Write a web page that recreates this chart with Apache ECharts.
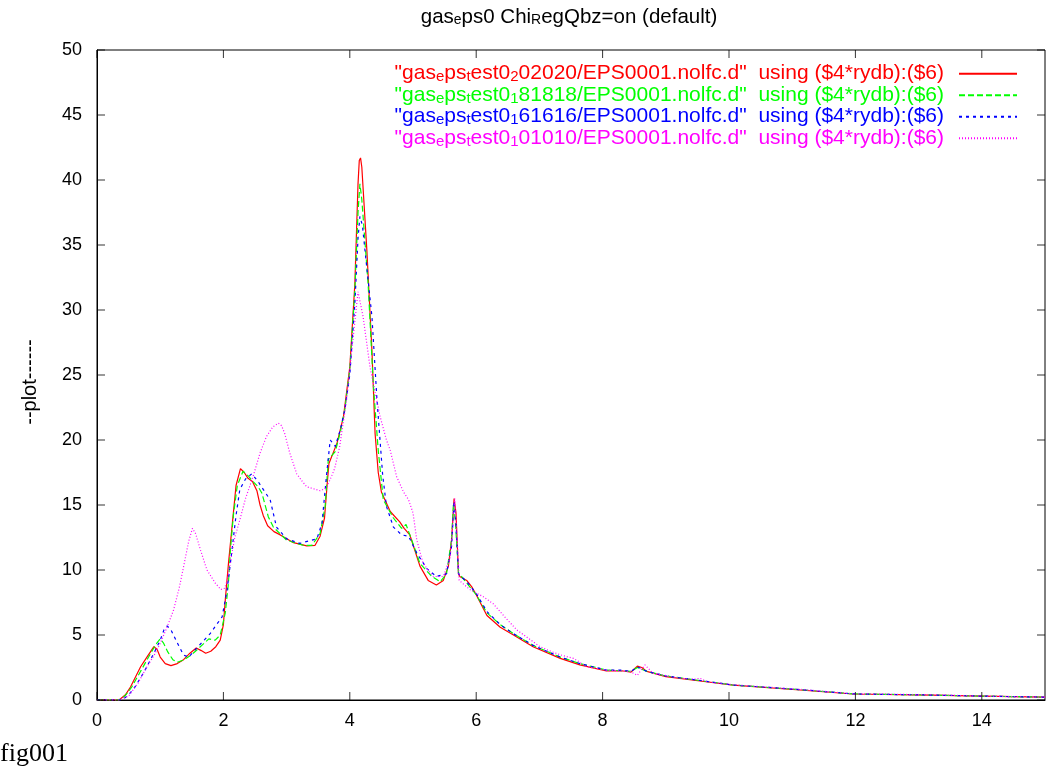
<!DOCTYPE html>
<html>
<head>
<meta charset="utf-8">
<script src="https://cdn.jsdelivr.net/npm/echarts@6/dist/echarts.min.js"></script>
<style>html,body{margin:0;padding:0;background:#fff}#c{width:1047px;height:777px}</style>
</head>
<body>
<div id="c"></div>
<script>
// ---- data ----
const xTicks = [0, 2, 4, 6, 8, 10, 12, 14];
const yTicks = [0, 5, 10, 15, 20, 25, 30, 35, 40, 45, 50];
const xMax = 15, yMax = 50;

const redX = [0,0.35,0.45,0.53,0.69,0.79,0.9,0.95,1.0,1.08,1.17,1.27,1.37,1.47,1.57,1.65,1.72,1.8,1.88,1.95,2.0,2.03,2.08,2.14,2.2,2.27,2.33,2.39,2.46,2.53,2.58,2.63,2.7,2.8,2.9,3.11,3.32,3.45,3.53,3.6,3.64,3.67,3.72,3.8,3.9,4.0,4.08,4.13,4.15,4.17,4.19,4.27,4.35,4.4,4.45,4.5,4.64,4.79,4.86,4.89,4.95,5.03,5.11,5.24,5.37,5.48,5.56,5.61,5.65,5.68,5.72,5.74,5.85,5.93,6.0,6.17,6.38,6.59,6.9,7.33,7.64,8.06,8.3,8.45,8.55,8.62,8.7,9.0,9.54,10.07,11.12,11.96,13.2,14.0,15];
const redY = [0,0,0.4,1.0,2.56,3.3,4.1,3.9,3.3,2.8,2.64,2.8,3.1,3.6,4.0,3.8,3.6,3.75,4.1,4.6,5.8,7.7,10.5,13.5,16.5,17.8,17.5,17.05,16.8,16.1,15.0,14.2,13.4,12.95,12.7,12.1,11.85,11.9,12.6,14.0,16.5,18.2,18.8,19.8,21.8,25.6,32,39.7,41.5,41.7,41.0,34.6,26.9,20.5,17.5,16.0,14.5,13.7,13.2,13.35,12.7,11.5,10.3,9.2,8.85,9.2,10.3,12.3,15.5,14.4,9.7,9.5,9.2,8.7,8.1,6.5,5.6,5.0,4.1,3.2,2.7,2.23,2.25,2.15,2.6,2.5,2.2,1.8,1.46,1.15,0.77,0.46,0.38,0.3,0.22];

const greenX = [0,0.35,0.45,0.55,0.7,0.85,0.95,1.0,1.05,1.12,1.2,1.27,1.38,1.5,1.58,1.68,1.77,1.87,1.95,2.03,2.08,2.11,2.16,2.22,2.31,2.4,2.47,2.55,2.61,2.66,2.71,2.79,3.0,3.26,3.4,3.53,3.61,3.66,3.77,3.85,3.92,4.0,4.08,4.13,4.16,4.19,4.29,4.37,4.45,4.49,4.53,4.69,4.82,4.89,4.98,5.11,5.3,5.43,5.53,5.61,5.64,5.67,5.72,5.85,6.0,6.17,6.38,6.59,6.9,7.33,7.64,8.06,8.3,8.45,8.55,8.7,9.0,9.54,10.07,11.12,11.96,13.2,14.0,15];
const greenY = [0,0,0.35,1.0,2.3,3.6,4.4,4.7,4.4,3.7,3.1,2.9,3.1,3.5,3.85,4.3,4.7,4.6,5.0,6.7,9.0,11.5,14.3,16.5,17.6,17.2,16.8,16.4,15.9,15.0,14.1,13.3,12.3,11.9,11.9,12.8,14.9,18.5,19.1,20.6,22.3,25.4,31.5,37.5,39.7,38.5,32,24.4,19.2,17.3,15.4,14.0,13.2,13.5,12.3,10.5,9.5,9.1,9.7,12.3,15.1,13.8,9.8,9.0,8.1,6.7,5.8,5.1,4.2,3.3,2.8,2.3,2.25,2.2,2.5,2.2,1.85,1.5,1.15,0.8,0.47,0.38,0.3,0.22];

const blueX = [0,0.4,0.5,0.6,0.75,0.9,1.0,1.06,1.11,1.17,1.27,1.37,1.45,1.58,1.79,1.98,2.06,2.13,2.2,2.26,2.35,2.45,2.55,2.63,2.74,2.84,3.0,3.21,3.48,3.56,3.63,3.69,3.77,3.85,3.92,4.0,4.08,4.13,4.16,4.2,4.24,4.35,4.43,4.52,4.58,4.69,4.82,4.93,5.06,5.22,5.37,5.53,5.61,5.65,5.68,5.72,5.85,6.0,6.17,6.38,6.59,6.9,7.33,7.64,8.06,8.3,8.45,8.55,8.7,9.0,9.54,10.07,11.12,11.96,13.2,14.0,15];
const blueY = [0,0,0.4,1.0,2.2,3.6,4.6,5.4,5.7,5.4,4.4,3.46,3.3,4.0,5.1,6.4,8.5,11.3,14.2,16.2,17.0,17.4,16.8,16.2,15.4,13.3,12.4,12.05,12.4,13.6,17.2,20.0,19.5,20.8,22.3,25.0,30.5,35.5,37.2,36.5,34.6,29.5,23.1,17.3,14.9,13.3,12.7,12.6,11.3,10.1,9.5,9.7,11.8,15.3,13.5,9.7,9.1,8.2,6.8,5.8,5.1,4.2,3.3,2.8,2.3,2.3,2.2,2.55,2.2,1.85,1.5,1.15,0.8,0.47,0.38,0.3,0.22];

const pinkX = [0,0.35,0.5,0.65,0.79,0.9,1.0,1.1,1.21,1.3,1.37,1.45,1.51,1.56,1.64,1.74,1.87,1.96,2.02,2.06,2.11,2.18,2.26,2.35,2.47,2.58,2.68,2.78,2.87,2.92,2.97,3.05,3.16,3.25,3.32,3.53,3.63,3.71,3.76,3.84,3.95,4.06,4.13,4.21,4.32,4.48,4.58,4.64,4.74,4.85,4.93,5.0,5.06,5.16,5.32,5.48,5.59,5.66,5.7,5.73,5.9,6.11,6.27,6.45,6.64,7.01,7.2,7.38,7.54,7.75,8.06,8.43,8.55,8.67,8.8,9.2,9.45,9.54,9.65,10.07,11.12,11.96,13.2,14.0,15];
const pinkY = [0,0,0.3,1.3,2.56,3.4,4.36,5.5,6.9,8.6,10.25,12.2,13.2,12.8,11.5,10.0,9.0,8.5,8.6,9.2,10.6,12.5,13.85,15.5,17.2,19.0,20.25,21.0,21.3,21.1,20.5,19.0,17.4,16.8,16.4,16.1,16.3,17.2,17.8,19.5,23.1,28.2,31.4,29.5,25.6,21.8,20.0,19.2,17.2,16.0,15.4,14.4,12.3,10.5,9.5,9.5,11.0,15.5,12.3,9.2,8.5,7.95,7.4,6.4,5.4,4.1,3.7,3.4,3.2,2.56,2.3,2.2,1.9,2.7,2.05,1.7,1.6,1.67,1.4,1.17,0.82,0.48,0.4,0.3,0.22];

const seriesNames = ['s0', 's1', 's2', 's3'];
const seriesColors = ['#ff0000', '#00ff00', '#0000ff', '#ff00ff'];
const seriesDash = ['solid', [6, 3], [3, 4], [1, 2]];
const fileCodes = ['2', '1', '1', '1'];
const fileTails = ['02020', '81818', '61616', '01010'];

function pairs(xs, ys) { return xs.map((x, i) => [x, ys[i]]); }
const seriesData = [pairs(redX, redY), pairs(greenX, greenY), pairs(blueX, blueY), pairs(pinkX, pinkY)];

const FONT = 'Liberation Sans';
const rich = { gap: { width: 10, lineHeight: 21.5 } };
seriesColors.forEach((c, i) => {
  rich['m' + i] = { color: c, fontSize: 21, fontFamily: FONT, lineHeight: 14, verticalAlign: 'top' };
  rich['b' + i] = { color: c, fontSize: 15, fontFamily: FONT, lineHeight: 14, verticalAlign: 'bottom' };
});

function legendLabel(name) {
  const i = seriesNames.indexOf(name);
  return '{m' + i + '|"gas}{b' + i + '|e}{m' + i + '|ps}{b' + i + '|t}{m' + i + '|est0}{b' + i + '|' + fileCodes[i] +
    '}{m' + i + '|' + fileTails[i] + '/EPS0001.nolfc.d"  using ($4*rydb):($6)}{gap|}';
}

const chart = echarts.init(document.getElementById('c'), null, { renderer: 'canvas' });

function baseAxis() {
  return {
    type: 'value', min: 0,
    axisLine: { show: true, lineStyle: { color: '#000', width: 1 } },
    axisTick: { show: false },
    splitLine: { show: false }
  };
}

// inward tick marks on all four sides, placed through the axes' own scales
function tickSeries(data, size, offset) {
  return {
    type: 'scatter', data: data, symbol: 'rect', symbolSize: size, symbolOffset: offset,
    itemStyle: { color: '#000' }, silent: true, clip: false, z: 5,
    emphasis: { disabled: true }, tooltip: { show: false }
  };
}
const TL = 8;
const tickSeriesList = [
  tickSeries(xTicks.map(v => [v, 0]), [1, TL], [0, -TL / 2]),
  tickSeries(xTicks.map(v => [v, yMax]), [1, TL], [0, TL / 2]),
  tickSeries(yTicks.map(v => [0, v]), [TL, 1], [TL / 2, 0]),
  tickSeries(yTicks.map(v => [xMax, v]), [TL, 1], [-TL / 2, 0])
];

chart.setOption({
  animation: false,
  backgroundColor: '#fff',
  title: {
    text: '{m|gas}{s|e}{m|ps0 Chi}{s|R}{m|egQbz=on (default)}{g|}',
    left: 569, top: 7, textAlign: 'center', padding: 0,
    textStyle: {
      fontFamily: FONT, fontSize: 20.5, fontWeight: 'normal', color: '#000',
      rich: {
        m: { fontFamily: FONT, fontSize: 20.5, color: '#000', lineHeight: 14, verticalAlign: 'top' },
        s: { fontFamily: FONT, fontSize: 14, color: '#000', lineHeight: 13, verticalAlign: 'bottom' },
        g: { width: 0, lineHeight: 20 }
      }
    }
  },
  grid: { left: 97, right: 2, top: 50, bottom: 77, show: true, borderColor: '#000', borderWidth: 1 },
  legend: {
    orient: 'vertical', right: 29, top: 63, align: 'right', padding: 0,
    itemWidth: 58, itemHeight: 14, itemGap: 0,
    data: seriesNames,
    formatter: legendLabel,
    itemStyle: { color: 'rgba(0,0,0,0)', borderWidth: 0, opacity: 0 },
    textStyle: { fontFamily: FONT, fontSize: 21, rich: rich },
    selectedMode: false
  },
  xAxis: Object.assign(baseAxis(), {
    max: xMax, interval: 2, position: 'bottom',
    axisLabel: { show: true, showMaxLabel: false, color: '#000', fontFamily: FONT, fontSize: 18, margin: 12 }
  }),
  yAxis: Object.assign(baseAxis(), {
    max: yMax, interval: 5, position: 'left',
    axisLabel: { show: true, color: '#000', fontFamily: FONT, fontSize: 18, margin: 15 }
  }),
  series: seriesNames.map((n, i) => ({
    name: n, type: 'line',
    data: seriesData[i], showSymbol: false, symbol: 'none', smooth: false,
    lineStyle: { color: seriesColors[i], width: 1.2, type: seriesDash[i] },
    itemStyle: { color: seriesColors[i] },
    emphasis: { disabled: true }
  })).concat(tickSeriesList),
  graphic: [
    {
      type: 'text', x: 30, y: 382, rotation: Math.PI / 2,
      style: { text: '--plot------', font: '20px "Liberation Sans"', fill: '#000', align: 'center', verticalAlign: 'middle' }
    },
    {
      type: 'text', left: 0, top: 741,
      style: { text: 'fig001', font: '26px "Liberation Serif", "DejaVu Serif", serif', fill: '#000' }
    }
  ]
});
</script>
</body>
</html>
